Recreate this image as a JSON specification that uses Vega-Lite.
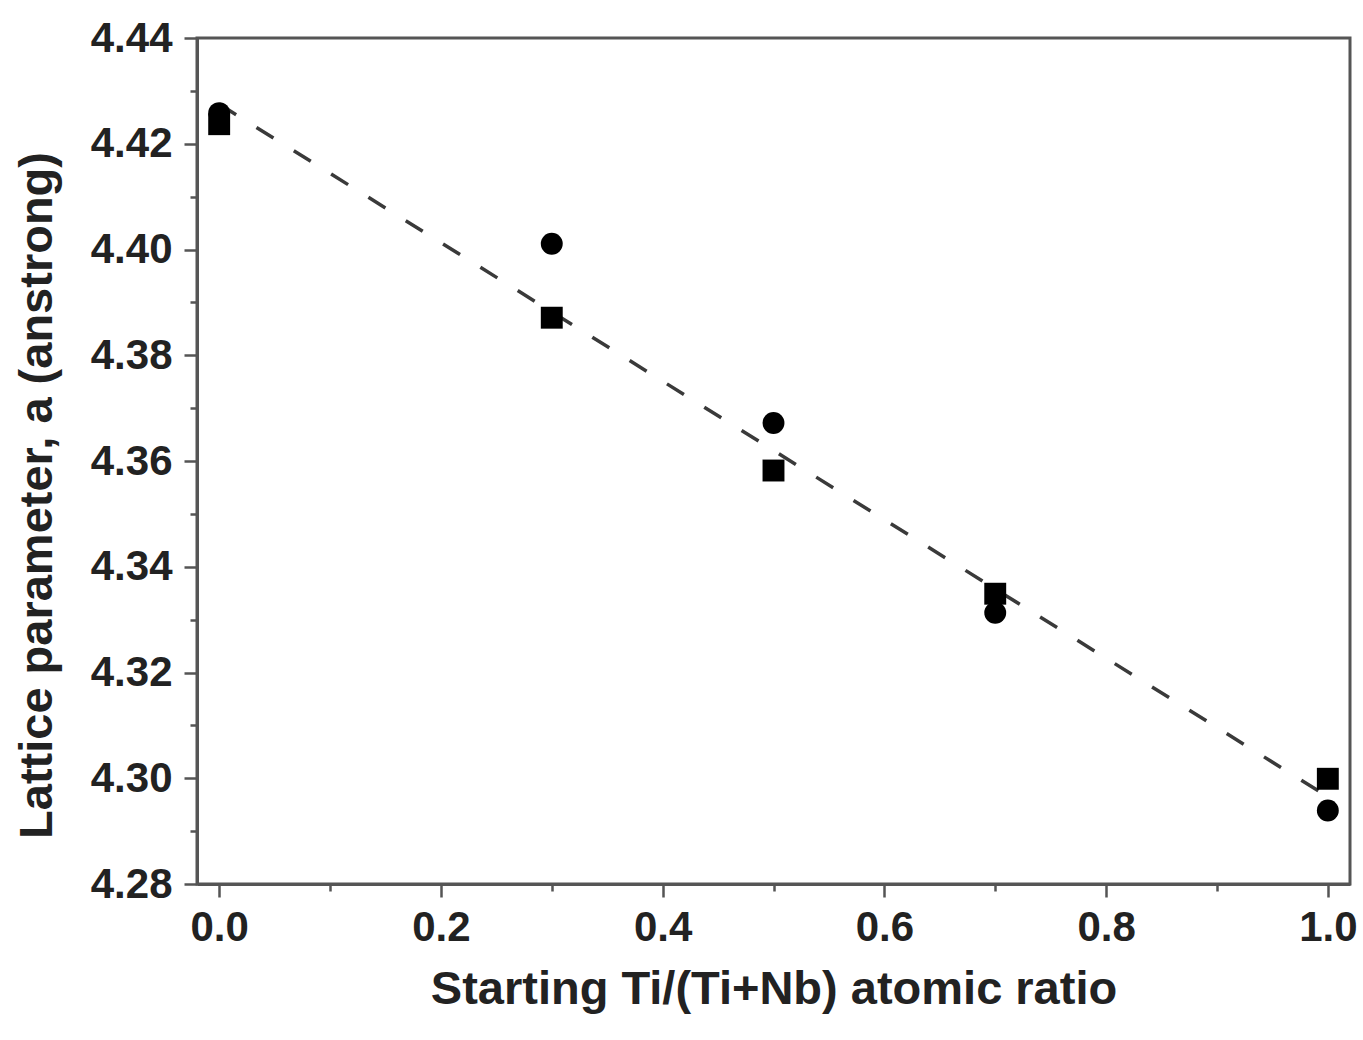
{
  "$schema": "https://vega.github.io/schema/vega-lite/v6.json",
  "width": 1153,
  "height": 846,
  "padding": {"left": 13, "top": 17, "right": 13, "bottom": 5},
  "background": "white",
  "config": {
    "view": {"stroke": "#555", "strokeWidth": 3},
    "axis": {
      "domainColor": "#555",
      "domainWidth": 3,
      "tickColor": "#555",
      "tickWidth": 2.5,
      "grid": false,
      "labelFont": "Liberation Sans",
      "labelFontWeight": "bold",
      "labelFontSize": 42,
      "labelColor": "#222",
      "titleFont": "Liberation Sans",
      "titleFontWeight": "bold",
      "titleFontSize": 47,
      "titleColor": "#222"
    }
  },
  "datasets": {
    "points": [
      {"ratio": 0.0, "a": 4.4258, "series": "Set A"},
      {"ratio": 0.0, "a": 4.4237, "series": "Set B"},
      {"ratio": 0.3, "a": 4.4011, "series": "Set A"},
      {"ratio": 0.3, "a": 4.3871, "series": "Set B"},
      {"ratio": 0.5, "a": 4.3672, "series": "Set A"},
      {"ratio": 0.5, "a": 4.3582, "series": "Set B"},
      {"ratio": 0.7, "a": 4.3313, "series": "Set A"},
      {"ratio": 0.7, "a": 4.3349, "series": "Set B"},
      {"ratio": 1.0, "a": 4.2939, "series": "Set A"},
      {"ratio": 1.0, "a": 4.2999, "series": "Set B"}
    ],
    "fit": [
      {"ratio": 0.0, "a": 4.4275},
      {"ratio": 1.0, "a": 4.2965}
    ]
  },
  "layer": [
    {
      "data": {"name": "fit"},
      "mark": {"type": "line", "strokeDash": [20, 24], "color": "#3a3a3a", "strokeWidth": 3.5},
      "encoding": {
        "x": {
          "field": "ratio", "type": "quantitative",
          "scale": {"domain": [-0.02, 1.02], "nice": false, "zero": false},
          "axis": {"orient": "bottom", "values": [0.1, 0.3, 0.5, 0.7, 0.9], "labels": false, "tickSize": 7, "domain": false, "title": null}
        },
        "y": {
          "field": "a", "type": "quantitative",
          "scale": {"domain": [4.28, 4.44], "nice": false, "zero": false},
          "axis": {"orient": "left", "values": [4.29, 4.31, 4.33, 4.35, 4.37, 4.39, 4.41, 4.43], "labels": false, "tickSize": 7, "domain": false, "title": null}
        }
      }
    },
    {
      "data": {"name": "points"},
      "mark": {"type": "point", "filled": true, "opacity": 1, "color": "black"},
      "encoding": {
        "x": {
          "field": "ratio", "type": "quantitative",
          "scale": {"domain": [-0.02, 1.02], "nice": false, "zero": false},
          "axis": {"orient": "bottom", "values": [0, 0.2, 0.4, 0.6, 0.8, 1.0], "format": ".1f", "tickSize": 13, "labelPadding": 10, "titlePadding": 18, "title": "Starting Ti/(Ti+Nb) atomic ratio"}
        },
        "y": {
          "field": "a", "type": "quantitative",
          "scale": {"domain": [4.28, 4.44], "nice": false, "zero": false},
          "axis": {"orient": "left", "values": [4.28, 4.30, 4.32, 4.34, 4.36, 4.38, 4.40, 4.42, 4.44], "format": ".2f", "tickSize": 13, "labelPadding": 12, "titlePadding": 29, "titleY": 457, "title": "Lattice parameter, a (anstrong)"}
        },
        "shape": {"field": "series", "type": "nominal", "scale": {"domain": ["Set A", "Set B"], "range": ["circle", "square"]}, "legend": null},
        "size": {"value": 480}
      }
    }
  ],
  "resolve": {"axis": {"x": "independent", "y": "independent"}}
}
